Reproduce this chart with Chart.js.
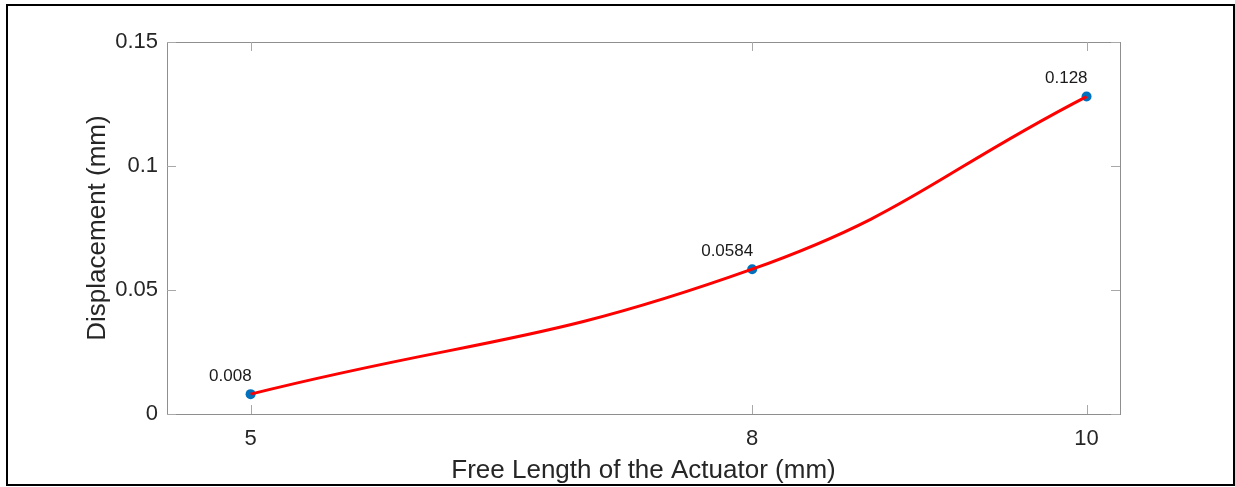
<!DOCTYPE html>
<html><head><meta charset="utf-8">
<script src="https://cdn.jsdelivr.net/npm/chart.js@4.4.0/dist/chart.umd.min.js"></script>
<style>
html,body{margin:0;padding:0;background:#fff;}
#wrap{position:relative;width:1235px;height:487px;overflow:hidden;background:#fff}
#frame{position:absolute;left:6px;top:4px;width:1225px;height:478px;border:2px solid #000;pointer-events:none}
canvas{position:absolute;left:0;top:0}
</style></head><body>
<div id="wrap"><canvas id="c" width="1235" height="487"></canvas><div id="frame"></div></div>
<script>
const freeLength = [5, 8, 10];
const displacement = [0.008, 0.0584, 0.128];
const pointLabels = ['0.008', '0.0584', '0.128'];
const xTicks = [5, 8, 10];
const xTickLabels = ['5', '8', '10'];
const yTicks = [0, 0.05, 0.1, 0.15];
const yTickLabels = ['0', '0.05', '0.1', '0.15'];
const xTitle = 'Free Length of the Actuator (mm)';
const yTitle = 'Displacement (mm)';

const FONT = '"Liberation Sans", Arial, Helvetica, sans-serif';
Chart.defaults.font.family = FONT;

const pts = freeLength.map((x, i) => ({x: x, y: displacement[i]}));

const boxPlugin = {
  id: 'boxPlugin',
  afterDraw(chart) {
    const {ctx, chartArea: a, scales} = chart;
    ctx.save();
    ctx.strokeStyle = '#8f8f8f';
    ctx.lineWidth = 1;
    ctx.strokeRect(Math.round(a.left) + 0.5, Math.round(a.top) + 0.5, Math.round(a.right - a.left), Math.round(a.bottom - a.top));
    ctx.strokeStyle = '#a8a8a8';
    ctx.beginPath();
    const tl = 9;
    xTicks.forEach(v => {
      const px = Math.round(scales.x.getPixelForValue(v)) + 0.5;
      ctx.moveTo(px, a.bottom); ctx.lineTo(px, a.bottom - tl);
      ctx.moveTo(px, a.top); ctx.lineTo(px, a.top + tl);
    });
    yTicks.forEach(v => {
      const py = Math.round(scales.y.getPixelForValue(v)) + 0.5;
      ctx.moveTo(a.left, py); ctx.lineTo(a.left + tl, py);
      ctx.moveTo(a.right, py); ctx.lineTo(a.right - tl, py);
    });
    ctx.stroke();
    ctx.restore();
  }
};

const labelPlugin = {
  id: 'labelPlugin',
  afterDatasetsDraw(chart) {
    const {ctx} = chart;
    const meta = chart.getDatasetMeta(1);
    ctx.save();
    ctx.font = '17px ' + FONT;
    ctx.fillStyle = '#1a1a1a';
    ctx.textAlign = 'right';
    ctx.textBaseline = 'middle';
    meta.data.forEach((el, i) => {
      ctx.fillText(pointLabels[i], el.x + 1, el.y - 18);
    });
    ctx.restore();
  }
};

new Chart(document.getElementById('c'), {
  type: 'scatter',
  data: {
    datasets: [
      {
        type: 'line',
        data: pts,
        borderColor: '#ff0000',
        borderWidth: 3,
        pointRadius: 0,
        fill: false,
        tension: 0.45,
        order: 1
      },
      {
        type: 'scatter',
        data: pts,
        backgroundColor: '#0072BD',
        borderColor: '#0072BD',
        pointRadius: 5,
        borderWidth: 0,
        order: 2
      }
    ]
  },
  options: {
    responsive: false,
    animation: false,
    layout: {padding: {top: 42, right: 115, left: 0, bottom: 0}},
    plugins: {legend: {display: false}, tooltip: {enabled: false}},
    scales: {
      x: {
        type: 'linear', min: 4.5, max: 10.2,
        grid: {display: false, drawTicks: false},
        border: {display: false},
        afterBuildTicks: s => { s.ticks = xTicks.map(v => ({value: v})); },
        afterFit: s => { s.height = 73; },
        ticks: {
          autoSkip: false, maxRotation: 0, padding: 12, color: '#262626',
          font: {size: 22},
          callback: (v, i) => xTickLabels[i]
        },
        title: {display: true, text: xTitle, color: '#262626', font: {size: 26}, padding: {top: 0, bottom: 1}}
      },
      y: {
        type: 'linear', min: 0, max: 0.15,
        grid: {display: false, drawTicks: false},
        border: {display: false},
        afterBuildTicks: s => { s.ticks = yTicks.map(v => ({value: v})); },
        afterFit: s => { s.width = 167; },
        ticks: {
          autoSkip: false, padding: 9, color: '#262626',
          font: {size: 22},
          callback: (v, i) => yTickLabels[i]
        },
        title: {display: true, text: yTitle, color: '#262626', font: {size: 26}, padding: {top: 82, bottom: 0}}
      }
    }
  },
  plugins: [boxPlugin, labelPlugin]
});
</script>
</body></html>
